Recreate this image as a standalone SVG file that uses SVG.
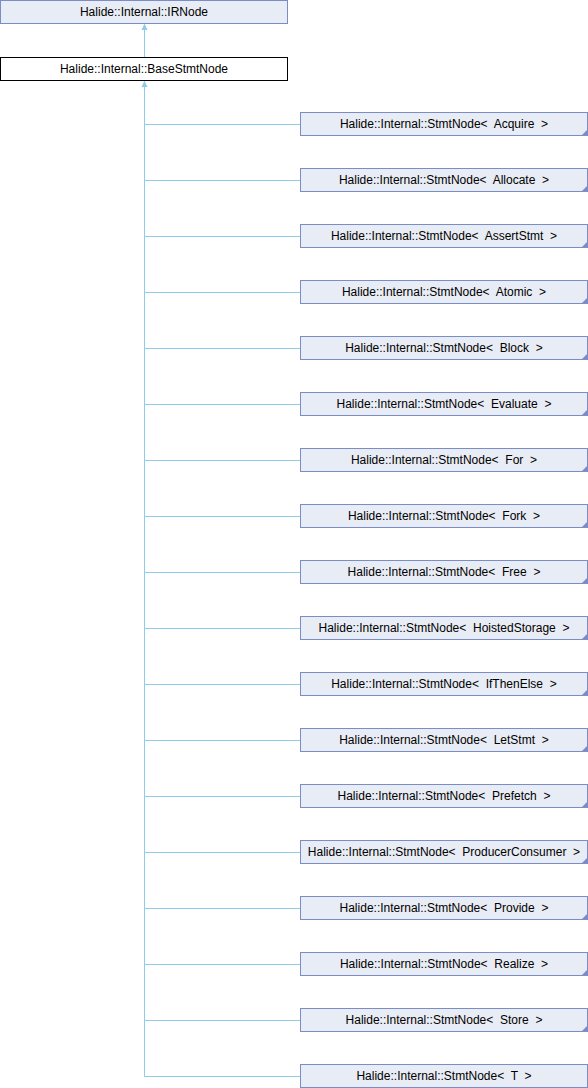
<svg xmlns="http://www.w3.org/2000/svg" width="588" height="1088" viewBox="0 0 588 1088">
<style>
.n{fill:#E8ECF5;stroke:#7A8DC8;stroke-width:1}
.b{fill:#FFFFFF;stroke:#000000;stroke-width:1}
.t{font-family:"Liberation Sans",Arial,sans-serif;font-size:12px;fill:#000;text-anchor:middle}
.s{word-spacing:3.4px}
.c{fill:none;stroke:#8FCBEA;stroke-width:1}
.a{fill:#8FCBEA}
.f{fill:#7A8DC8}
</style>
<rect width="588" height="1088" fill="#FFFFFF"/>
<g id="connectors">
<path class="c" d="M144.5,29 V57"/>
<polygon class="a" points="144.5,23.5 141.5,30 147.5,30"/>
<path class="c" d="M144.5,86 V1076.5 H300"/>
<polygon class="a" points="144.5,80.5 141.5,87 147.5,87"/>
<path class="c" d="M144.5,124.5 H300 M144.5,180.5 H300 M144.5,236.5 H300 M144.5,292.5 H300 M144.5,348.5 H300 M144.5,404.5 H300 M144.5,460.5 H300 M144.5,516.5 H300 M144.5,572.5 H300 M144.5,628.5 H300 M144.5,684.5 H300 M144.5,740.5 H300 M144.5,796.5 H300 M144.5,852.5 H300 M144.5,908.5 H300 M144.5,964.5 H300 M144.5,1020.5 H300"/>
</g>
<g id="IRNode"><rect class="n" x="0.5" y="0.5" width="287" height="23"/><text class="t" x="144" y="16">Halide::Internal::IRNode</text></g>
<g id="BaseStmtNode"><rect class="b" x="0.5" y="57.5" width="287" height="23"/><text class="t" x="144" y="73">Halide::Internal::BaseStmtNode</text></g>
<g id="Acquire"><rect class="n" x="300.5" y="112.5" width="287" height="23"/><polygon class="f" points="587,130 587,135 582,135"/><text class="t s" x="444" y="128">Halide::Internal::StmtNode&lt; Acquire &gt;</text></g>
<g id="Allocate"><rect class="n" x="300.5" y="168.5" width="287" height="23"/><polygon class="f" points="587,186 587,191 582,191"/><text class="t s" x="444" y="184">Halide::Internal::StmtNode&lt; Allocate &gt;</text></g>
<g id="AssertStmt"><rect class="n" x="300.5" y="224.5" width="287" height="23"/><polygon class="f" points="587,242 587,247 582,247"/><text class="t s" x="444" y="240">Halide::Internal::StmtNode&lt; AssertStmt &gt;</text></g>
<g id="Atomic"><rect class="n" x="300.5" y="280.5" width="287" height="23"/><polygon class="f" points="587,298 587,303 582,303"/><text class="t s" x="444" y="296">Halide::Internal::StmtNode&lt; Atomic &gt;</text></g>
<g id="Block"><rect class="n" x="300.5" y="336.5" width="287" height="23"/><polygon class="f" points="587,354 587,359 582,359"/><text class="t s" x="444" y="352">Halide::Internal::StmtNode&lt; Block &gt;</text></g>
<g id="Evaluate"><rect class="n" x="300.5" y="392.5" width="287" height="23"/><polygon class="f" points="587,410 587,415 582,415"/><text class="t s" x="444" y="408">Halide::Internal::StmtNode&lt; Evaluate &gt;</text></g>
<g id="For"><rect class="n" x="300.5" y="448.5" width="287" height="23"/><polygon class="f" points="587,466 587,471 582,471"/><text class="t s" x="444" y="464">Halide::Internal::StmtNode&lt; For &gt;</text></g>
<g id="Fork"><rect class="n" x="300.5" y="504.5" width="287" height="23"/><polygon class="f" points="587,522 587,527 582,527"/><text class="t s" x="444" y="520">Halide::Internal::StmtNode&lt; Fork &gt;</text></g>
<g id="Free"><rect class="n" x="300.5" y="560.5" width="287" height="23"/><polygon class="f" points="587,578 587,583 582,583"/><text class="t s" x="444" y="576">Halide::Internal::StmtNode&lt; Free &gt;</text></g>
<g id="HoistedStorage"><rect class="n" x="300.5" y="616.5" width="287" height="23"/><polygon class="f" points="587,634 587,639 582,639"/><text class="t s" x="444" y="632">Halide::Internal::StmtNode&lt; HoistedStorage &gt;</text></g>
<g id="IfThenElse"><rect class="n" x="300.5" y="672.5" width="287" height="23"/><polygon class="f" points="587,690 587,695 582,695"/><text class="t s" x="444" y="688">Halide::Internal::StmtNode&lt; IfThenElse &gt;</text></g>
<g id="LetStmt"><rect class="n" x="300.5" y="728.5" width="287" height="23"/><polygon class="f" points="587,746 587,751 582,751"/><text class="t s" x="444" y="744">Halide::Internal::StmtNode&lt; LetStmt &gt;</text></g>
<g id="Prefetch"><rect class="n" x="300.5" y="784.5" width="287" height="23"/><polygon class="f" points="587,802 587,807 582,807"/><text class="t s" x="444" y="800">Halide::Internal::StmtNode&lt; Prefetch &gt;</text></g>
<g id="ProducerConsumer"><rect class="n" x="300.5" y="840.5" width="287" height="23"/><polygon class="f" points="587,858 587,863 582,863"/><text class="t s" x="444" y="856">Halide::Internal::StmtNode&lt; ProducerConsumer &gt;</text></g>
<g id="Provide"><rect class="n" x="300.5" y="896.5" width="287" height="23"/><polygon class="f" points="587,914 587,919 582,919"/><text class="t s" x="444" y="912">Halide::Internal::StmtNode&lt; Provide &gt;</text></g>
<g id="Realize"><rect class="n" x="300.5" y="952.5" width="287" height="23"/><polygon class="f" points="587,970 587,975 582,975"/><text class="t s" x="444" y="968">Halide::Internal::StmtNode&lt; Realize &gt;</text></g>
<g id="Store"><rect class="n" x="300.5" y="1008.5" width="287" height="23"/><polygon class="f" points="587,1026 587,1031 582,1031"/><text class="t s" x="444" y="1024">Halide::Internal::StmtNode&lt; Store &gt;</text></g>
<g id="T"><rect class="n" x="300.5" y="1064.5" width="287" height="23"/><text class="t s" x="444" y="1080">Halide::Internal::StmtNode&lt; T &gt;</text></g>
</svg>
